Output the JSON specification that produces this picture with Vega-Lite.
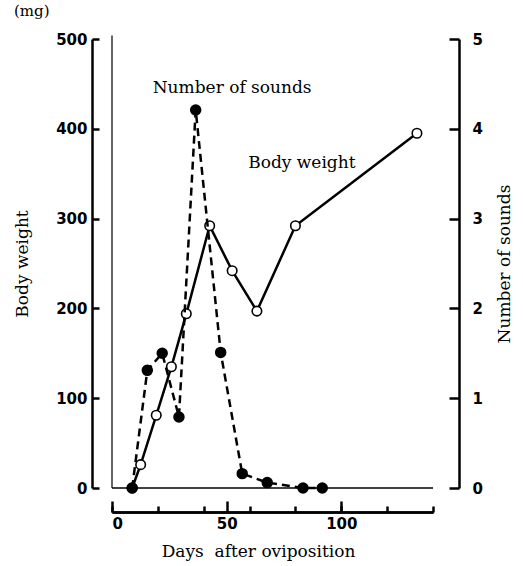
{
  "$schema": "https://vega.github.io/schema/vega-lite/v6.json",
  "width": 321,
  "height": 449,
  "padding": {"left": 13, "top": 4, "right": 5, "bottom": 5},
  "background": "white",
  "config": {
    "view": {"stroke": null},
    "axis": {
      "labelFont": "DejaVu Sans", "labelFontWeight": "bold", "labelFontSize": 15, "labelColor": "black",
      "titleFont": "DejaVu Serif", "titleFontWeight": "normal", "titleFontSize": 17, "titleColor": "black",
      "domainColor": "black", "tickColor": "black", "grid": false, "domainWidth": 2.5, "tickWidth": 2.5
    }
  },
  "datasets": {
    "weight": [
      {"day": 8.8, "weight": 0},
      {"day": 12.5, "weight": 26},
      {"day": 19.3, "weight": 81},
      {"day": 25.9, "weight": 135},
      {"day": 32.4, "weight": 194},
      {"day": 42.6, "weight": 292},
      {"day": 52.4, "weight": 242},
      {"day": 63.2, "weight": 197},
      {"day": 80.0, "weight": 292},
      {"day": 133.0, "weight": 395}
    ],
    "sounds": [
      {"day": 8.8, "sounds": 0},
      {"day": 15.4, "sounds": 1.31},
      {"day": 21.9, "sounds": 1.5},
      {"day": 29.2, "sounds": 0.79},
      {"day": 36.5, "sounds": 4.21},
      {"day": 47.4, "sounds": 1.51},
      {"day": 56.8, "sounds": 0.16},
      {"day": 67.7, "sounds": 0.06},
      {"day": 83.3, "sounds": 0},
      {"day": 91.7, "sounds": 0}
    ],
    "notes": [
      {"label": "Number of sounds", "day": 52.4, "weight": 445},
      {"label": "Body weight", "day": 82.8, "weight": 362}
    ],
    "unit": [
      {"label": "(mg)", "day": -35, "weight": 531}
    ]
  },
  "layer": [
    {
      "layer": [
        {
          "data": {"values": [{}]},
          "mark": {"type": "rule", "color": "black", "strokeWidth": 1.2},
          "encoding": {
            "x": {"datum": 0, "type": "quantitative"},
            "y": {"datum": 0, "type": "quantitative"},
            "y2": {"datum": 504}
          }
        },
        {
          "data": {"values": [{}]},
          "mark": {"type": "rule", "color": "black", "strokeWidth": 1.5},
          "encoding": {
            "x": {"datum": 0, "type": "quantitative"},
            "x2": {"datum": 140},
            "y": {"datum": 0, "type": "quantitative"}
          }
        },
        {
          "data": {"name": "weight"},
          "mark": {"type": "line", "color": "black", "strokeWidth": 2.5},
          "encoding": {
            "x": {
              "field": "day", "type": "quantitative",
              "scale": {"domain": [0, 140], "nice": false, "zero": false},
              "axis": {
                "orient": "bottom", "offset": 24, "values": [0, 50, 100], "tickSize": -11,
                "labelPadding": 15, "labelAngle": 0,
                "title": "Days\u00a0\u00a0after oviposition", "titlePadding": 12,
                "titleX": 146, "titleAlign": "center"
              }
            },
            "y": {
              "field": "weight", "type": "quantitative",
              "scale": {"domain": [0, 500], "nice": false},
              "axis": {
                "orient": "left", "offset": 20, "values": [0, 100, 200, 300, 400, 500],
                "tickSize": -7, "labelPadding": 12, "title": "Body weight", "titlePadding": 24
              }
            }
          }
        },
        {
          "data": {"name": "weight"},
          "mark": {"type": "point", "shape": "circle", "filled": true, "fill": "white", "stroke": "black", "strokeWidth": 1.6, "size": 90, "opacity": 1},
          "encoding": {
            "x": {"field": "day", "type": "quantitative"},
            "y": {"field": "weight", "type": "quantitative"}
          }
        },
        {
          "data": {"name": "notes"},
          "mark": {"type": "text", "font": "DejaVu Serif", "fontSize": 17, "color": "black", "align": "center", "baseline": "middle"},
          "encoding": {
            "x": {"field": "day", "type": "quantitative"},
            "y": {"field": "weight", "type": "quantitative"},
            "text": {"field": "label"}
          }
        },
        {
          "data": {"name": "unit"},
          "mark": {"type": "text", "font": "DejaVu Serif", "fontSize": 15, "color": "black", "align": "center", "baseline": "middle"},
          "encoding": {
            "x": {"field": "day", "type": "quantitative"},
            "y": {"field": "weight", "type": "quantitative"},
            "text": {"field": "label"}
          }
        }
      ]
    },
    {
      "data": {"name": "sounds"},
      "layer": [
        {
          "mark": {"type": "line", "color": "black", "strokeWidth": 2.5, "strokeDash": [8, 5]},
          "encoding": {
            "x": {
              "field": "day", "type": "quantitative",
              "axis": {
                "orient": "bottom", "offset": 24, "values": [0, 10, 20, 30, 40, 50, 60, 70, 80, 90, 100, 110, 120, 130, 140],
                "tickSize": -6, "labels": false, "title": null
              }
            },
            "y": {
              "field": "sounds", "type": "quantitative",
              "scale": {"domain": [0, 5], "nice": false},
              "axis": {
                "orient": "right", "offset": 26, "values": [0, 1, 2, 3, 4, 5], "format": "d",
                "tickSize": -10, "labelPadding": 23, "title": "Number of sounds", "titleAngle": 270, "titlePadding": 31
              }
            }
          }
        },
        {
          "mark": {"type": "point", "shape": "circle", "filled": true, "fill": "black", "stroke": "black", "size": 90, "opacity": 1},
          "encoding": {
            "x": {"field": "day", "type": "quantitative"},
            "y": {"field": "sounds", "type": "quantitative"}
          }
        }
      ]
    }
  ],
  "resolve": {"scale": {"y": "independent"}, "axis": {"x": "independent", "y": "independent"}}
}
